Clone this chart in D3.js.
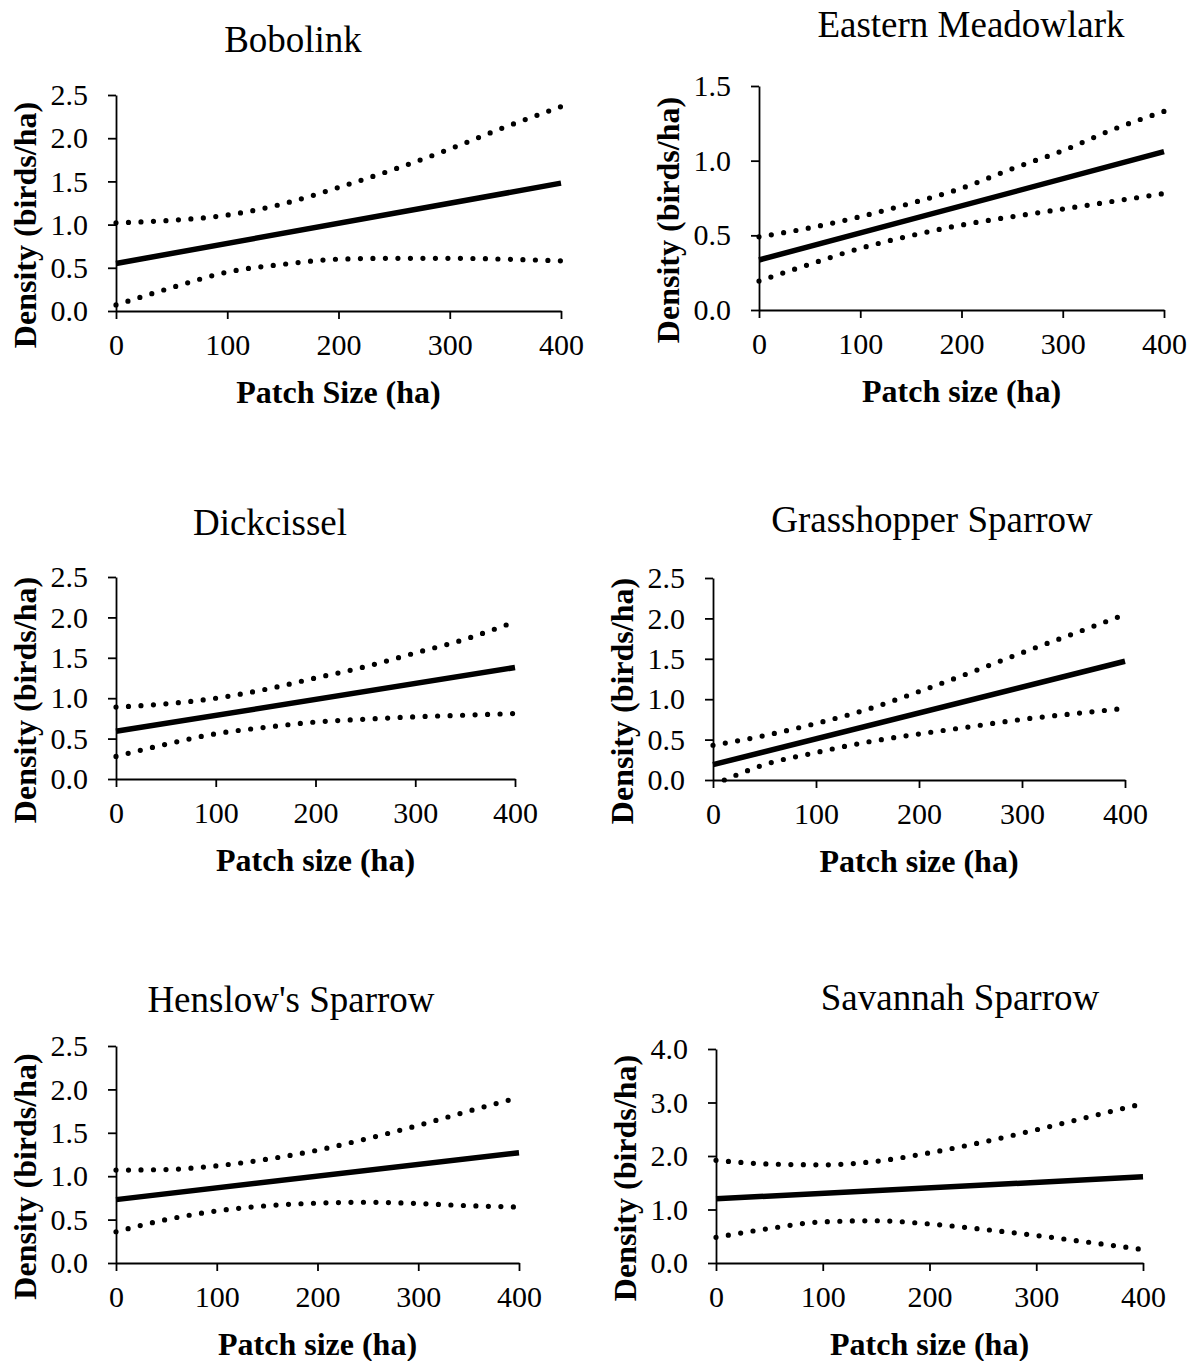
<!DOCTYPE html>
<meta charset="utf-8">
<style>
body { margin: 0; background: #fff; }
svg { display: block; background: #fff; }
.axis text { font-family: "Liberation Serif", "Times New Roman", serif; font-size: 30px; fill: #000; }
.axis path, .axis line { stroke: #000; stroke-width: 1.8; }
.title { font-family: "Liberation Serif", "Times New Roman", serif; font-size: 37px; fill: #000; }
.label { font-family: "Liberation Serif", "Times New Roman", serif; font-size: 32px; font-weight: bold; fill: #000; }
</style>
<svg width="1189" height="1361"></svg>
<script src="https://cdnjs.cloudflare.com/ajax/libs/d3/7.8.5/d3.min.js"></script>
<script>

// data
var species = ["Bobolink", "Eastern Meadowlark", "Dickcissel", "Grasshopper Sparrow", "Henslow's Sparrow", "Savannah Sparrow"];
var xLabels = ["Patch Size (ha)", "Patch size (ha)", "Patch size (ha)", "Patch size (ha)", "Patch size (ha)", "Patch size (ha)"];
var yLabel = "Density (birds/ha)";
var xTicks = [0, 100, 200, 300, 400];
var yTicksA = [0, 0.5, 1.0, 1.5, 2.0, 2.5];
var yTicksB = [0, 0.5, 1.0, 1.5];
var yTicksC = [0, 1, 2, 3, 4];
var yTickSets = [yTicksA, yTicksB, yTicksA, yTicksA, yTicksA, yTicksC];

// fitted line (x = 0 and 400)
var fitX = [0, 400];
var fitBobolink = [0.55, 1.48];
var fitMeadowlark = [0.335, 1.06];
var fitDickcissel = [0.59, 1.38];
var fitGrasshopper = [0.19, 1.47];
var fitHenslow = [0.73, 1.27];
var fitSavannah = [1.20, 1.61];

// confidence bands, [patch size, density]
var upperBobolink = [[0, 1.02], [50, 1.05], [100, 1.11], [150, 1.24], [200, 1.43], [250, 1.64], [300, 1.875], [350, 2.13], [400, 2.365]];
var lowerBobolink = [[0, 0.07], [50, 0.27], [100, 0.45], [150, 0.54], [200, 0.60], [250, 0.61], [300, 0.61], [350, 0.60], [400, 0.58]];

var upperMeadowlark = [[0, 0.49], [50, 0.55], [100, 0.625], [150, 0.715], [200, 0.815], [250, 0.946], [300, 1.067], [350, 1.21], [400, 1.33]];
var lowerMeadowlark = [[0, 0.194], [50, 0.306], [100, 0.413], [150, 0.498], [200, 0.569], [250, 0.625], [300, 0.676], [350, 0.728], [400, 0.78]];

var upperDickcissel = [[0, 0.89], [50, 0.93], [100, 1.00], [150, 1.11], [200, 1.25], [250, 1.39], [300, 1.56], [350, 1.73], [392, 1.91]];
var lowerDickcissel = [[0, 0.28], [50, 0.43], [100, 0.56], [150, 0.64], [200, 0.705], [250, 0.74], [300, 0.77], [350, 0.79], [398, 0.81]];

var upperGrasshopper = [[0, 0.43], [50, 0.55], [100, 0.70], [150, 0.875], [200, 1.095], [250, 1.33], [300, 1.575], [350, 1.81], [393, 2.015]];
var lowerGrasshopper = [[11, 0.0], [50, 0.19], [100, 0.34], [150, 0.47], [200, 0.57], [250, 0.66], [300, 0.75], [350, 0.82], [395, 0.88]];

var upperHenslow = [[0, 1.07], [50, 1.077], [100, 1.12], [150, 1.196], [200, 1.30], [250, 1.435], [300, 1.585], [350, 1.75], [390, 1.877]];
var lowerHenslow = [[0, 0.36], [50, 0.50], [100, 0.60], [150, 0.66], [200, 0.69], [250, 0.70], [300, 0.685], [350, 0.66], [396, 0.646]];

var upperSavannah = [[0, 1.92], [50, 1.85], [100, 1.835], [150, 1.90], [200, 2.06], [250, 2.26], [300, 2.49], [350, 2.735], [394, 2.95]];
var lowerSavannah = [[0, 0.48], [50, 0.645], [100, 0.77], [150, 0.79], [200, 0.73], [250, 0.63], [300, 0.515], [350, 0.385], [397, 0.26]];

var fits = [fitBobolink, fitMeadowlark, fitDickcissel, fitGrasshopper, fitHenslow, fitSavannah];
var uppers = [upperBobolink, upperMeadowlark, upperDickcissel, upperGrasshopper, upperHenslow, upperSavannah];
var lowers = [lowerBobolink, lowerMeadowlark, lowerDickcissel, lowerGrasshopper, lowerHenslow, lowerSavannah];

// where each small panel sits on the page
var layout = [
  {left: 116, right: 561, top: 95, bottom: 311, titleX: 293, titleY: 52},
  {left: 759, right: 1164, top: 86, bottom: 310, titleX: 971, titleY: 37},
  {left: 116, right: 515, top: 577, bottom: 779, titleX: 270, titleY: 535},
  {left: 713, right: 1125, top: 578, bottom: 780, titleX: 932, titleY: 532},
  {left: 116, right: 519, top: 1046, bottom: 1263, titleX: 291, titleY: 1012},
  {left: 716, right: 1143, top: 1049, bottom: 1263, titleX: 960, titleY: 1010}
];

var svg = d3.select("svg");

species.forEach(function(name, i) {
  var L = layout[i],
      yTicks = yTickSets[i];

  var x = d3.scaleLinear().domain([0, 400]).range([L.left, L.right]);
  var y = d3.scaleLinear().domain([0, d3.max(yTicks)]).range([L.bottom, L.top]);

  var g = svg.append("g");

  g.append("g")
      .attr("class", "axis")
      .attr("transform", "translate(0," + L.bottom + ")")
      .call(d3.axisBottom(x).tickValues(xTicks).tickSize(8).tickSizeOuter(0).tickPadding(15));

  g.append("g")
      .attr("class", "axis")
      .attr("transform", "translate(" + L.left + ",0)")
      .call(d3.axisLeft(y).tickValues(yTicks).tickFormat(d3.format(".1f")).tickSize(8).tickSizeOuter(0).tickPadding(20));

  var line = d3.line()
      .x(function(d) { return x(d[0]); })
      .y(function(d) { return y(d[1]); })
      .curve(d3.curveMonotoneX);

  [uppers[i], lowers[i]].forEach(function(band) {
    g.append("path")
        .datum(band)
        .attr("fill", "none")
        .attr("stroke", "#000")
        .attr("stroke-width", 5.2)
        .attr("stroke-linecap", "round")
        .attr("stroke-dasharray", "0,12.5")
        .attr("d", line);
  });

  g.append("path")
      .datum(fitX.map(function(v, k) { return [v, fits[i][k]]; }))
      .attr("fill", "none")
      .attr("stroke", "#000")
      .attr("stroke-width", 5.5)
      .attr("d", line);

  g.append("text")
      .attr("class", "title")
      .attr("x", L.titleX)
      .attr("y", L.titleY)
      .attr("text-anchor", "middle")
      .text(name);

  g.append("text")
      .attr("class", "label")
      .attr("x", (L.left + L.right) / 2)
      .attr("y", L.bottom + 92)
      .attr("text-anchor", "middle")
      .text(xLabels[i]);

  g.append("text")
      .attr("class", "label")
      .attr("transform", "translate(" + (L.left - 91) + "," + ((L.top + L.bottom) / 2 + 22) + ") rotate(-90)")
      .attr("dy", "0.35em")
      .attr("text-anchor", "middle")
      .text(yLabel);
});

</script>
